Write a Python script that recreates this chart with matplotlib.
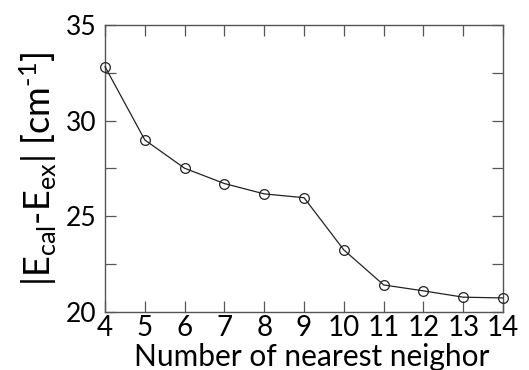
import matplotlib.pyplot as plt
from matplotlib.ticker import MultipleLocator

neighbors = [4, 5, 6, 7, 8, 9, 10, 11, 12, 13, 14]
errors = [32.82, 28.99, 27.51, 26.71, 26.17, 25.97, 23.24, 21.41, 21.1, 20.77, 20.73]

plt.rcParams['font.family'] = ['Lato', 'DejaVu Sans']
plt.rcParams['mathtext.fontset'] = 'custom'
plt.rcParams['mathtext.rm'] = 'Lato'
plt.rcParams['mathtext.it'] = 'Lato'
plt.rcParams['mathtext.default'] = 'rm'

fig = plt.figure(figsize=(5.29, 3.70), dpi=100)
ax = fig.add_axes([0.1985, 0.157, 0.7525, 0.7755])

ax.plot(neighbors, errors, color='#222222', linewidth=0.9,
        marker='o', markersize=7, markerfacecolor='none',
        markeredgecolor='#222222', markeredgewidth=0.9, clip_on=False, zorder=3)

ax.set_xlim(4, 14)
ax.set_ylim(20, 35)
ax.set_xticks(neighbors)
ax.yaxis.set_major_locator(MultipleLocator(5))
ax.yaxis.set_minor_locator(MultipleLocator(2.5))

ax.tick_params(which='both', direction='in', length=8, width=0.9,
               top=True, right=True, color='#555555')
ax.tick_params(axis='x', labelsize=20, pad=2)
ax.tick_params(axis='y', labelsize=19, pad=6)
for s in ax.spines.values():
    s.set_color('#555555')
    s.set_linewidth(1.0)

ax.set_xlabel('Number of nearest neighor', fontsize=21.5, labelpad=0)
ax.xaxis.set_label_coords(0.52, -0.108)
ax.xaxis.label.set_va('top')
ax.set_ylabel('|E$_{cal}$-E$_{ex}$| [cm$^{\u2010 1}$]', fontsize=26, labelpad=5)

fig.savefig('out.png', dpi=100)
